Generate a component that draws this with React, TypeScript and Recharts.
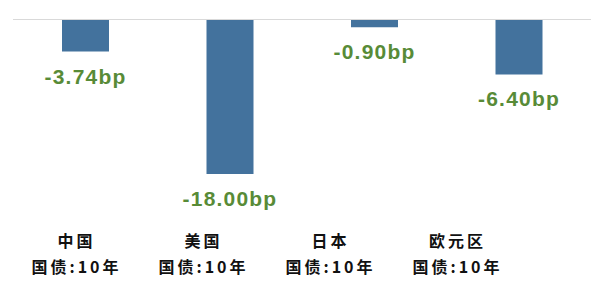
import { BarChart, Bar, XAxis, YAxis, ReferenceLine, LabelList } from 'recharts'

// bp change of 10y government bond yields
const regions = ['中国', '美国', '日本', '欧元区']
const bondTerm = '国债:10年'
const changes = [-3.74, -18.0, -0.9, -6.4]

const data = regions.map((name, i) => ({ name, change: changes[i] }))

const BAR_COLOR = '#43729d'
const LABEL_COLOR = '#588b37'

// two-line category label under the chart
const RegionTick = (props: any) => {
  const { x, y, payload } = props
  return (
    <text
      x={x}
      y={y}
      textAnchor="middle"
      fill="#111"
      fontFamily="'Noto Sans CJK SC', sans-serif"
      fontWeight="bold"
      fontSize={16}
      letterSpacing={3}
    >
      <tspan x={x} dy={21.5}>{payload.value}</tspan>
      <tspan x={x} dy={26}>{bondTerm}</tspan>
    </text>
  )
}

// value label below the end of each (negative) bar
const renderValue = (props: any) => {
  const { x, y, width, height, value } = props
  const end = Math.max(y, y + height)
  return (
    <text
      x={x + width / 2}
      y={end + 32}
      textAnchor="middle"
      fill={LABEL_COLOR}
      fontFamily="'Liberation Sans', Arial, sans-serif"
      fontWeight="bold"
      fontSize={21}
      letterSpacing={1.2}
    >
      {`${Number(value).toFixed(2)}bp`}
    </text>
  )
}

export default function App() {
  return (
    <div style={{ position: 'absolute', left: 0, top: 0, width: 593, height: 282, background: '#fff' }}>
      <BarChart
        width={593}
        height={282}
        data={data}
        margin={{ top: 19.5, right: 2, left: 13, bottom: 0 }}
      >
        <XAxis xAxisId="bar" dataKey="name" hide height={0} />
        <XAxis
          xAxisId="label"
          dataKey="name"
          height={56.5}
          padding={{ left: 0, right: 70 }}
          axisLine={false}
          tickLine={false}
          tickSize={0}
          tickMargin={0}
          interval={0}
          tick={<RegionTick />}
        />
        <YAxis hide domain={[-24, 0]} width={0} />
        <ReferenceLine y={0} xAxisId="bar" stroke="#d9d9d9" strokeWidth={1} />
        <Bar xAxisId="bar" dataKey="change" fill={BAR_COLOR} barSize={47} isAnimationActive={false}>
          <LabelList dataKey="change" content={renderValue} />
        </Bar>
      </BarChart>
    </div>
  )
}
